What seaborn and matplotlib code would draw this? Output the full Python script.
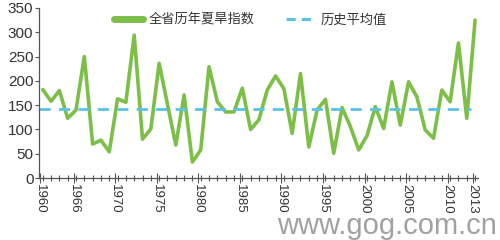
import matplotlib
matplotlib.use("Agg")
import matplotlib.pyplot as plt
from matplotlib.lines import Line2D
from matplotlib.ticker import FixedLocator, MultipleLocator
import seaborn as sns
import pandas as pd

years = list(range(1961, 2014))
drought_index = [182, 158, 180, 123, 140, 250, 70, 78, 54, 163,
                 156, 294, 80, 101, 236, 152, 68, 171, 33, 58,
                 229, 157, 136, 136, 185, 100, 120, 181, 210, 184,
                 92, 215, 64, 140, 162, 51, 145, 106, 58, 87,
                 147, 102, 198, 109, 198, 167, 99, 82, 181, 157,
                 278, 123, 325]
historical_mean = 142
tick_years = [1961, 1965, 1970, 1975, 1980, 1985, 1990, 1995, 2000, 2005, 2010, 2013]
tick_labels = ['1960', '1966', '1970', '1975', '1980', '1985', '1990', '1995', '2000', '2005', '2010', '2013']
series_label = '全省历年夏旱指数'
mean_label = '历史平均值'
watermark = 'www.gog.com.cn'

df = pd.DataFrame({'year': years, 'value': drought_index})

sns.set_theme(style='white')
plt.rcParams['font.family'] = ['Liberation Sans', 'Noto Sans CJK SC', 'DejaVu Sans']

green = '#7cbf47'
blue = '#5bc2e7'
text_c = '#333333'

fig = plt.figure(figsize=(5, 2.4), dpi=100)
ax = fig.add_axes([0.078, 0.258, 0.878, 0.709])

sns.lineplot(data=df, x='year', y='value', ax=ax, color=green, linewidth=2.6, legend=False)
ax.axhline(historical_mean, color=blue, linewidth=2.0, linestyle=(0, (4, 3)), xmin=0, xmax=0.985)

ax.set_xlim(1960.55, 2013.35)
ax.set_ylim(0, 350)
ax.set_xlabel('')
ax.set_ylabel('')

ax.xaxis.set_major_locator(FixedLocator([y - 0.3 for y in tick_years]))
ax.set_xticklabels(tick_labels, rotation=-90, fontsize=9.5, color=text_c)
ax.xaxis.set_minor_locator(FixedLocator(years))
ax.tick_params(axis='x', which='major', direction='inout', length=7, width=0.8, color='#555555', pad=1, bottom=True)
ax.tick_params(axis='x', which='minor', direction='inout', length=5, width=0.8, color='#555555', bottom=True)

ax.yaxis.set_major_locator(MultipleLocator(50))
ax.tick_params(axis='y', which='major', direction='out', length=3, width=0.8, color='#555555', labelsize=11, labelcolor=text_c, pad=1, left=True)

for s in ['top', 'right']:
    ax.spines[s].set_visible(False)
for s in ['left', 'bottom']:
    ax.spines[s].set_color('#555555')
    ax.spines[s].set_linewidth(0.9)

handles = [Line2D([0], [0], color=green, linewidth=5),
           Line2D([0], [0], color=blue, linewidth=2.2, linestyle=(0, (3, 2)))]
fig.legend(handles, [series_label, mean_label], loc='center left',
           bbox_to_anchor=(0.228, 0.915), ncol=2, frameon=False,
           prop={'family': ['Noto Sans CJK SC', 'DejaVu Sans'], 'size': 9.5},
           handlelength=2.2, handletextpad=0.4, columnspacing=2.4,
           labelcolor=text_c, borderaxespad=0, borderpad=0)

fig.text(0.994, 0.06, watermark, fontsize=21, color='#8a8a8a', alpha=0.8,
         ha='right', va='center')

fig.savefig('out.png', dpi=100)
